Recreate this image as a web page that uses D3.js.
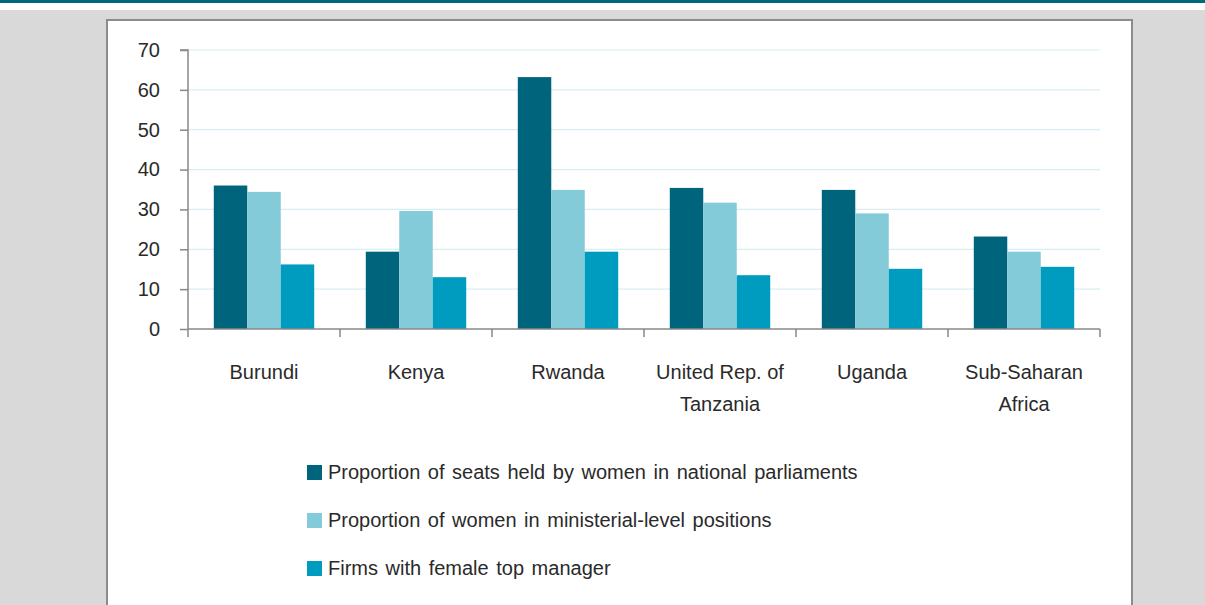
<!DOCTYPE html>
<html>
<head>
<meta charset="utf-8">
<script src="https://cdn.jsdelivr.net/npm/d3@7"></script>
<style>
  body { margin: 0; background: #d9d9d9; }
  svg { display: block; }
</style>
</head>
<body>
<div id="chart"></div>
<script>
var categories = [["Burundi"], ["Kenya"], ["Rwanda"], ["United Rep. of", "Tanzania"], ["Uganda"], ["Sub-Saharan", "Africa"]];
var seriesNames = [
    "Proportion of seats held by women in national parliaments",
    "Proportion of women in ministerial-level positions",
    "Firms with female top manager"
];
var parliament = [36.0, 19.4, 63.2, 35.4, 34.9, 23.2];
var ministers = [34.4, 29.6, 34.9, 31.7, 29.0, 19.4];
var firms = [16.2, 13.0, 19.4, 13.5, 15.1, 15.6];
var yTicks = [0, 10, 20, 30, 40, 50, 60, 70];
var colors = ["#00657c", "#84cbd9", "#009cbf"];

var width = 1205, height = 605;
var font = "'Liberation Sans', Arial, sans-serif";
var textColor = "#2a2a2a";
var svg = d3.select("#chart").append("svg")
    .attr("width", width)
    .attr("height", height);

// background + top band
svg.append("rect").attr("x", 0).attr("y", 0).attr("width", width).attr("height", height).attr("fill", "#d9d9d9");
svg.append("rect").attr("x", 0).attr("y", 0).attr("width", width).attr("height", 10).attr("fill", "#ffffff");
svg.append("rect").attr("x", 0).attr("y", 0).attr("width", width).attr("height", 3).attr("fill", "#00687e");

// white panel
svg.append("rect")
    .attr("x", 107).attr("y", 20)
    .attr("width", 1025).attr("height", 600)
    .attr("fill", "#ffffff")
    .attr("stroke", "#8c8c8c")
    .attr("stroke-width", 2);

var plotLeft = 188, plotRight = 1100, plotTop = 50, plotBottom = 329;
var names = categories.map(function (c) { return c.join(" "); });

var x = d3.scaleBand().domain(names).range([plotLeft, plotRight]).paddingInner(0).paddingOuter(0);
var x1 = d3.scaleBand().domain([0, 1, 2]).range([0, x.bandwidth()]).paddingOuter(0.77).paddingInner(0);
var y = d3.scaleLinear().domain([0, 70]).range([plotBottom, plotTop]);

// grid lines
svg.append("g").selectAll("line")
    .data(yTicks.filter(function (d) { return d > 0; }))
    .enter().append("line")
    .attr("x1", plotLeft).attr("x2", plotRight)
    .attr("y1", function (d) { return y(d); })
    .attr("y2", function (d) { return y(d); })
    .attr("stroke", "#d8eef4")
    .attr("stroke-width", 1.2);

// bars
var series = [parliament, ministers, firms];
var groups = svg.append("g").selectAll("g")
    .data(names)
    .enter().append("g")
    .attr("transform", function (d) { return "translate(" + x(d) + ",0)"; });

groups.selectAll("rect")
    .data(function (d, i) { return series.map(function (s, j) { return { s: j, v: s[i] }; }); })
    .enter().append("rect")
    .attr("x", function (d) { return x1(d.s); })
    .attr("width", x1.bandwidth())
    .attr("y", function (d) { return y(d.v); })
    .attr("height", function (d) { return plotBottom - y(d.v); })
    .attr("fill", function (d) { return colors[d.s]; });

// y axis
var yAxis = d3.axisLeft(y).tickValues(yTicks).tickSize(8).tickPadding(20);
var gy = svg.append("g").attr("transform", "translate(" + plotLeft + ",0)").call(yAxis);
gy.select(".domain").attr("stroke", "#888888").attr("stroke-width", 1.5).attr("d", "M-8," + plotTop + "H0V" + plotBottom);
gy.selectAll(".tick line").attr("stroke", "#888888").attr("stroke-width", 1.5);
gy.selectAll(".tick text")
    .attr("fill", textColor)
    .style("font-family", font)
    .style("font-size", "20px");

// x axis line and boundary ticks
svg.append("line")
    .attr("x1", plotLeft).attr("x2", plotRight)
    .attr("y1", plotBottom).attr("y2", plotBottom)
    .attr("stroke", "#888888").attr("stroke-width", 1.5);
svg.append("g").selectAll("line")
    .data(names.concat(["end"]))
    .enter().append("line")
    .attr("x1", function (d, i) { return i < names.length ? x(d) : plotRight; })
    .attr("x2", function (d, i) { return i < names.length ? x(d) : plotRight; })
    .attr("y1", plotBottom).attr("y2", plotBottom + 8)
    .attr("stroke", "#888888").attr("stroke-width", 1.5);

// category labels
var labels = svg.append("g").selectAll("text")
    .data(categories)
    .enter().append("text")
    .attr("text-anchor", "middle")
    .attr("fill", textColor)
    .style("font-family", font)
    .style("font-size", "20px");
labels.selectAll("tspan")
    .data(function (d, i) { return d.map(function (t) { return { t: t, i: i }; }); })
    .enter().append("tspan")
    .attr("x", function (d) { return x(names[d.i]) + x.bandwidth() / 2; })
    .attr("y", function (d, k) { return 379 + k * 32; })
    .text(function (d) { return d.t; });

// legend
var legend = svg.append("g").selectAll("g")
    .data(seriesNames)
    .enter().append("g")
    .attr("transform", function (d, i) { return "translate(307," + (465 + i * 48) + ")"; });
legend.append("rect")
    .attr("width", 15).attr("height", 15)
    .attr("fill", function (d, i) { return colors[i]; });
legend.append("text")
    .attr("x", 21).attr("y", 14)
    .attr("fill", textColor)
    .style("font-family", font)
    .style("font-size", "20px")
    .style("word-spacing", "2px")
    .text(function (d) { return d; });
</script>
</body>
</html>
